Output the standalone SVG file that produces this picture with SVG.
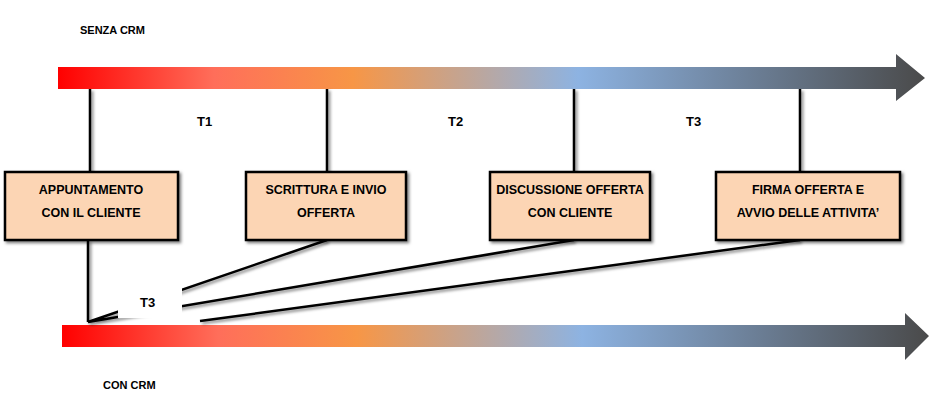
<svg xmlns="http://www.w3.org/2000/svg" width="942" height="402" viewBox="0 0 942 402">
<defs>
<linearGradient id="g" x1="0" x2="1" y1="0" y2="0">
<stop offset="0" stop-color="#ff0000"/>
<stop offset="0.18" stop-color="#ff6e5a"/>
<stop offset="0.34" stop-color="#f79646"/>
<stop offset="0.6" stop-color="#8db3e2"/>
<stop offset="1" stop-color="#4a4a4a"/>
</linearGradient>
<filter id="sh" x="-10%" y="-10%" width="130%" height="140%"><feDropShadow dx="2" dy="2" stdDeviation="1.5" flood-opacity="0.5"/></filter>
</defs>
<style>
.box{fill:#fcd5b4;stroke:#000;stroke-width:2.5;filter:url(#sh)}
.t{font-family:"Liberation Sans",Arial,sans-serif;font-weight:bold;font-size:12.5px;text-anchor:middle;fill:#000}
.l{stroke:#000;stroke-width:2.5;fill:none}
.s{font-family:"Liberation Sans",Arial,sans-serif;font-weight:bold;font-size:11px;fill:#000}
</style>
<rect width="942" height="402" fill="#fff"/>
<text class="s" x="80" y="34">SENZA CRM</text>
<text class="s" x="103" y="389">CON CRM</text>
<path d="M58 67H896V54L925 78L896 101V89H58Z" fill="url(#g)"/>
<path d="M62 325H905V313L929 336L905 360V347H62Z" fill="url(#g)"/>
<g id="connectors" filter="url(#sh)">
<path class="l" d="M90 89V172M327 89V172M574 89V172M800 89V172"/>
<path class="l" d="M88 240V322M327 240L88 322M574 240L88 322M800 240L200 321"/>
</g>
<rect x="118" y="282" width="64" height="36" fill="#fff"/>
<text class="s" x="140" y="307" style="font-size:13px">T3</text>
<text class="s" x="197" y="126" style="font-size:13px">T1</text>
<text class="s" x="448" y="126" style="font-size:13px">T2</text>
<text class="s" x="686" y="126" style="font-size:13px">T3</text>
<g id="n1"><rect class="box" x="5" y="172" width="173" height="68"/><text class="t" x="91" y="194">APPUNTAMENTO</text><text class="t" x="91" y="217">CON IL CLIENTE</text></g>
<g id="n2"><rect class="box" x="246" y="172" width="160" height="68"/><text class="t" x="326" y="194">SCRITTURA E INVIO</text><text class="t" x="326" y="217">OFFERTA</text></g>
<g id="n3"><rect class="box" x="490" y="172" width="160" height="68"/><text class="t" x="570" y="194">DISCUSSIONE OFFERTA</text><text class="t" x="570" y="217">CON CLIENTE</text></g>
<g id="n4"><rect class="box" x="716" y="172" width="184" height="68"/><text class="t" x="808" y="194">FIRMA OFFERTA E</text><text class="t" x="808" y="217">AVVIO DELLE ATTIVITA’</text></g>
</svg>
